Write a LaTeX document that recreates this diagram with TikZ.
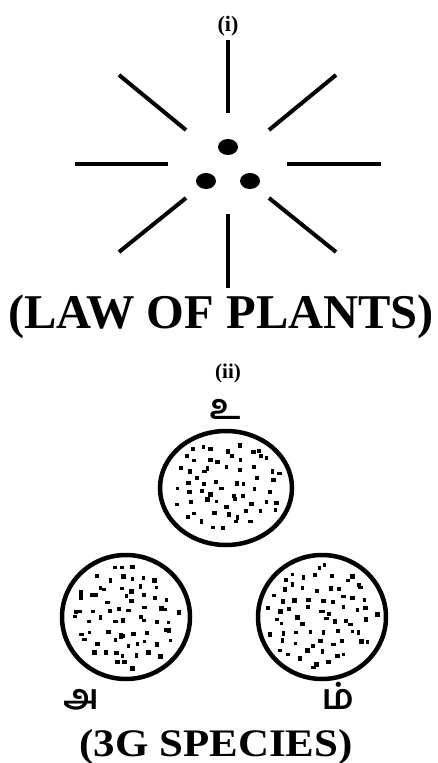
\documentclass[tikz,border=0pt]{standalone}
\usepackage{fontspec}
\setmainfont{Liberation Serif}
\newfontfamily\tamilfont[Script=Tamil]{Hind Madurai}
\begin{document}
\begin{tikzpicture}[x=1pt,y=-1pt,
  ray/.style={line width=4pt},
  seed/.style={fill=black},
  lbl/.style={inner sep=0pt,anchor=base,font=\bfseries},
  tam/.style={inner sep=0pt,font=\tamilfont\bfseries\fontsize{35}{35}\selectfont},
  disc/.style={line width=4.5pt},
  speck/.style={fill=black}]
\useasboundingbox (0,0) rectangle (438,763);
% (i)
\node[lbl,font=\bfseries\fontsize{22}{22}\selectfont] (ti) at (228,31) {(i)};
% rays
\draw[ray] (228,40) -- (228,113);
\draw[ray] (228,214) -- (228,288);
\draw[ray] (75,164) -- (168,164);
\draw[ray] (287,164) -- (381,164);
\draw[ray] (119,75) -- (186,130);
\draw[ray] (336,75) -- (269,130);
\draw[ray] (186,198) -- (119,252);
\draw[ray] (269,198) -- (336,252);
% seeds
\fill[seed] (228,147) ellipse [x radius=10, y radius=8];
\fill[seed] (206,181) ellipse [x radius=10, y radius=8];
\fill[seed] (250,181) ellipse [x radius=10, y radius=8];
\node[lbl,font=\bfseries\fontsize{48.5}{48}\selectfont] (law) at (221,328) {(LAW OF PLANTS)};
\node[lbl,font=\bfseries\fontsize{21}{21}\selectfont] (tii) at (228,378) {(ii)};
% circles
\pgfmathsetseed{11}
\foreach \cx/\cy/\rx/\ry in {226/488/66/57, 126/617/64/62, 322/617/64/62}{
  \draw[disc] (\cx,\cy) ellipse [x radius=\rx, y radius=\ry];
  \foreach \gx in {-62,-50,...,62}{
    \foreach \gy in {-62,-51,...,62}{
      \pgfmathsetmacro\px{\gx+6*rand+3*mod(\gy,2)}
      \pgfmathsetmacro\py{\gy+4*rand}
      \pgfmathsetmacro\inside{(\px/(\rx-9))^2+(\py/(\ry-9))^2<1 ? 1 : 0}
      \ifnum\inside=1
        \pgfmathsetmacro\sw{3+2.2*rnd}
        \pgfmathsetmacro\sh{3+2.2*rnd}
        \fill[speck] ({\cx+\px-2},{\cy+\py-2}) rectangle +(\sw,\sh);
      \fi
    }
  }
}
\node[tam] (u) at (225,409) {உ};
\node[tam] (a) at (81,700) {அ};
\node[tam] (m) at (338,696) {ம்};
\node[lbl,font=\bfseries\fontsize{39}{39}\selectfont,xscale=1.1] (sp) at (216,756) {(3G SPECIES)};
\end{tikzpicture}
\end{document}
